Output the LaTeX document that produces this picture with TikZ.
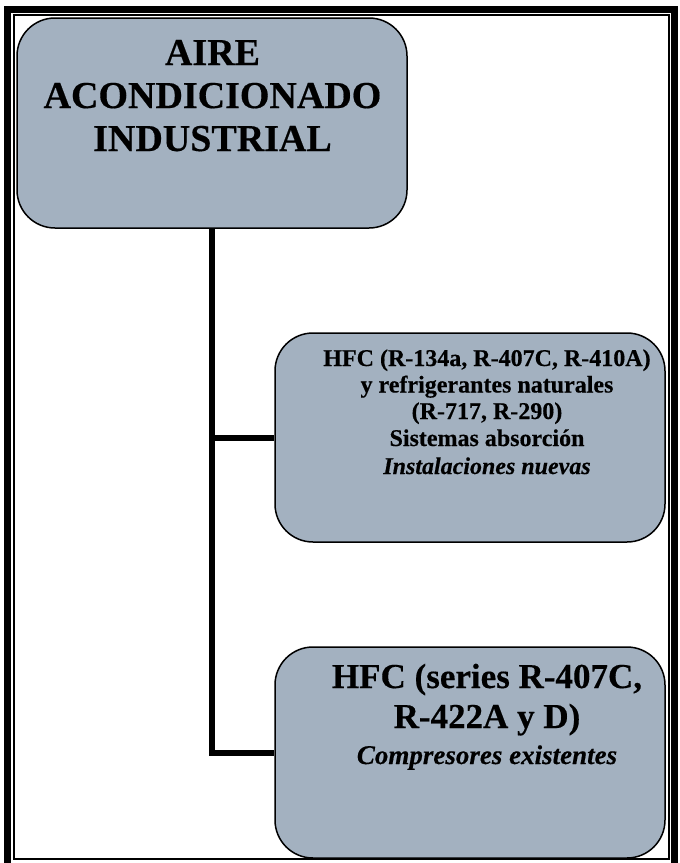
\documentclass[tikz,border=0pt]{standalone}
\usepackage{fontspec}
\setmainfont{Liberation Serif}[BoldFeatures={FakeBold=0.4}, BoldItalicFeatures={FakeBold=0.4}]
\definecolor{boxfill}{RGB}{163,177,192}
\tikzset{
  card/.style={draw=black, line width=1.5pt, fill=boxfill, rounded corners=38pt,
    minimum width=390pt, inner sep=0pt},
  conn/.style={draw=black, line width=6pt, line join=miter},
  ln/.style={anchor=base, inner sep=0pt, text=black},
  titlefont/.style={font=\fontsize{38}{43}\selectfont\bfseries},
  midfont/.style={font=\fontsize{24}{27}\selectfont\bfseries},
  miditfont/.style={font=\fontsize{24}{27}\selectfont\bfseries\itshape},
  bigfont/.style={font=\fontsize{35}{40}\selectfont\bfseries},
  bigitfont/.style={font=\fontsize{27}{31}\selectfont\bfseries\itshape},
}
\begin{document}
\begin{tikzpicture}[x=1pt, y=-1pt]
  \useasboundingbox (0,0) rectangle (680,863);
  \clip (0,0) rectangle (680,863);
  \fill[white] (0,0) rectangle (680,863);

  % page border: thick outer rule and thin inner rule
  \draw[line width=7pt] (7.5,9.5) rectangle (674.5,890);
  \draw[line width=2pt] (14,15) rectangle (669,859);

  % boxes
  \node[card, minimum height=210pt] (b1) at (212,123) {};
  \node[card, minimum height=209pt] (b2) at (470,437.5) {};
  \node[card, minimum height=211pt] (b3) at (470,752.5) {};

  % tree connectors
  \draw[conn] (b1.south) |- (b2.west);
  \draw[conn] (b1.south) |- (b3.west);

  % title
  \node[ln, titlefont] (t1a) at (212.5,65) {AIRE};
  \node[ln, titlefont] (t1b) at (212.5,108) {ACONDICIONADO};
  \node[ln, titlefont] (t1c) at (212.5,151) {INDUSTRIAL};

  % new installations
  \node[ln, midfont] (t2a) at (487,366) {HFC (R-134a, R-407C, R-410A)};
  \node[ln, midfont] (t2b) at (487,392.5) {y refrigerantes naturales};
  \node[ln, midfont] (t2c) at (487,419) {(R-717, R-290)};
  \node[ln, midfont] (t2d) at (487,446) {Sistemas absorción};
  \node[ln, miditfont] (t2e) at (487,474) {Instalaciones nuevas};

  % existing compressors
  \node[ln, bigfont] (t3a) at (487,688) {HFC (series R-407C,};
  \node[ln, bigfont] (t3b) at (487,728) {R-422A y D)};
  \node[ln, bigitfont] (t3c) at (487,764) {Compresores existentes};
\end{tikzpicture}
\end{document}
